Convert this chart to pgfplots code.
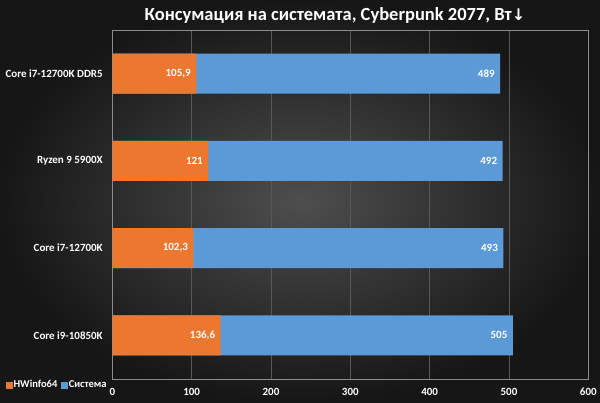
\documentclass[border=0pt]{standalone}
\usepackage{pgfplots}
\pgfplotsset{compat=1.18}
\usepackage{fontspec}
\setmainfont{Carlito}
\newfontfamily\arrowfont{DejaVu Sans}
\definecolor{bgin}{HTML}{4E4E4E}
\definecolor{bgout}{HTML}{161616}
\definecolor{orc}{HTML}{EC7830}
\definecolor{blc}{HTML}{5B9AD6}
\definecolor{gridc}{HTML}{585858}
\definecolor{framec}{HTML}{8C8C8C}
\begin{document}
\begin{tikzpicture}
\path[inner color=bgin, outer color=bgout] (0,0) rectangle (600pt,402pt);
\node[text=white, font=\fontsize{18.5}{22}\selectfont\bfseries] at (335pt,386pt) {Консумация на системата, Cyberpunk 2077, Вт{\arrowfont\bfseries\fontsize{16}{18}\selectfont↓}};
\begin{axis}[
  at={(112.3pt,23pt)}, anchor=south west,
  scale only axis, width=476pt, height=349pt,
  xbar, bar width=40pt, bar shift=0pt,
  xmin=0, xmax=600, ymin=-0.5, ymax=3.5,
  xtick={0,100,...,600},
  ytick={0,1,2,3},
  yticklabels={Core i9-10850K, Core i7-12700K, Ryzen 9 5900X, Core i7-12700K DDR5},
  /pgf/number format/assume math mode=true,
  tick label style={font=\fontsize{11}{13}\selectfont\bfseries, text=white},
  xticklabel style={yshift=-8pt, inner sep=1pt},
  yticklabel style={xshift=-6pt},
  major tick length=0pt,
  xmajorgrids, grid style={gridc, line width=0.8pt},
  axis line style={framec, line width=0.8pt},
  point meta=explicit symbolic,
  nodes near coords,
  every node near coord/.append style={anchor=east, xshift=-2pt, text=white, font=\fontsize{11}{13}\selectfont\bfseries},
  legend columns=2,
  legend style={at={(-0.2233,-0.0165)}, anchor=west, draw=none, fill=none, text=white,
    font=\fontsize{10.5}{12}\selectfont\bfseries, inner sep=0pt,
    nodes={inner sep=1pt},
    /tikz/every even column/.append style={column sep=3pt}},
  legend cell align=left,
]
\addlegendimage{legend image code/.code={\fill[orc] (0pt,-3pt) rectangle (6pt,3pt);}}
\addlegendentry{HWinfo64}
\addlegendimage{legend image code/.code={\fill[blc] (0pt,-3pt) rectangle (6pt,3pt);}}
\addlegendentry{Система}
\addplot[draw=none, fill=blc, forget plot] coordinates {
  (505,0)[505] (493,1)[493] (492,2)[492] (489,3)[489]};
\addplot[draw=none, fill=orc, forget plot] coordinates {
  (136.6,0)[{136,6}] (102.3,1)[{102,3}] (121,2)[121] (105.9,3)[{105,9}]};
\end{axis}
\end{tikzpicture}
\end{document}
